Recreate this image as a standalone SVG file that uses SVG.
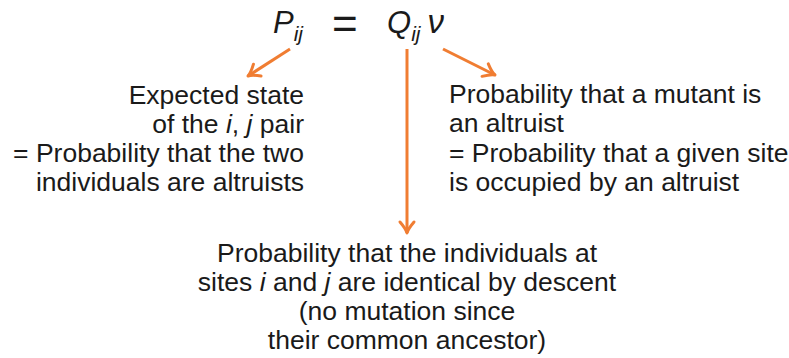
<svg xmlns="http://www.w3.org/2000/svg" width="789" height="358" viewBox="0 0 789 358">
  <defs>
    <style>
      .t { font-family: "Liberation Sans", Arial, sans-serif; font-size: 26.5px; fill: #1a1a1a; }
      .m { font-family: "Liberation Sans", Arial, sans-serif; font-size: 31px; fill: #1a1a1a; font-style: italic; }
      .s { font-size: 21px; }
      .i { font-style: italic; }
      .c { stroke: #f07d32; stroke-width: 3; fill: none; }
    </style>
    <marker id="ah" markerUnits="userSpaceOnUse" markerWidth="20" markerHeight="20" refX="0" refY="0" viewBox="-12 -10 14 20" orient="auto">
      <path d="M -11,-7 Q -4,-1 0,0 Q -4,1 -11,7" stroke="#f07d32" stroke-width="3" fill="none" stroke-linecap="round" stroke-linejoin="round"/>
    </marker>
  </defs>

  <g id="formula">
    <text class="m" x="273" y="33">P<tspan class="s" dy="8">ij</tspan></text>
    <text class="t" x="332" y="39" style="font-size:44px">=</text>
    <text class="m" x="387" y="33">Q<tspan class="s" dy="8">ij</tspan><tspan dy="-8" dx="7" style="font-size:33px">ν</tspan></text>
  </g>

  <g id="connectors">
    <line class="c" x1="290" y1="49" x2="248" y2="76" marker-end="url(#ah)"/>
    <line class="c" x1="407" y1="49" x2="407" y2="233" marker-end="url(#ah)"/>
    <line class="c" x1="443" y1="49" x2="495" y2="75" marker-end="url(#ah)"/>
  </g>

  <g id="left-note">
    <text class="t" text-anchor="end" x="304" y="104">Expected state</text>
    <text class="t" text-anchor="end" x="304" y="133">of the <tspan class="i">i</tspan>, <tspan class="i">j</tspan> pair</text>
    <text class="t" text-anchor="end" x="304" y="162">= Probability that the two</text>
    <text class="t" text-anchor="end" x="304" y="191">individuals are altruists</text>
  </g>

  <g id="right-note">
    <text class="t" x="449" y="103">Probability that a mutant is</text>
    <text class="t" x="449" y="132">an altruist</text>
    <text class="t" x="449" y="162">= Probability that a given site</text>
    <text class="t" x="449" y="191">is occupied by an altruist</text>
  </g>

  <g id="bottom-note">
    <text class="t" text-anchor="middle" x="407" y="262">Probability that the individuals at</text>
    <text class="t" text-anchor="middle" x="407" y="291">sites <tspan class="i">i</tspan> and <tspan class="i">j</tspan> are identical by descent</text>
    <text class="t" text-anchor="middle" x="407" y="320">(no mutation since</text>
    <text class="t" text-anchor="middle" x="407" y="349">their common ancestor)</text>
  </g>
</svg>
